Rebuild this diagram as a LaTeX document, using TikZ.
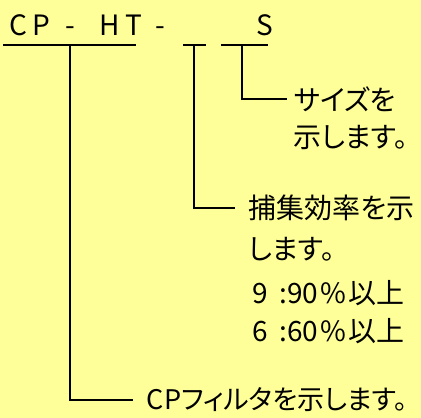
\documentclass[tikz,border=0pt]{standalone}
\usepackage{fontspec}
\setmainfont{Noto Sans CJK JP}[RawFeature=+palt]
\definecolor{memo}{RGB}{255,255,153}
\begin{document}
\begin{tikzpicture}[x=1pt, y=-1pt, line width=1.6pt,
    every node/.style={inner sep=0pt, anchor=west, font=\fontsize{28}{32}\selectfont},
    code/.style={anchor=base west, font=\fontsize{28}{32}\selectfont}]
      \fill[memo] (0,0) rectangle (421,418);
      \useasboundingbox (0,0) rectangle (421,418);
      % model code
      \node (cp) at (9,35) [code] {C\hspace{5pt}P};
      \node (d1) at (65,35) [code] {-};
      \node (ht) at (99,35) [code] {H\hspace{5pt}T};
      \node (d2) at (155,35) [code] {-};
      \node (s) at (256,35) [code] {S};
      \coordinate (u1) at (3,45);
      \coordinate (u2) at (136,45);
      \coordinate (u3) at (183,45);
      \coordinate (u4) at (206,45);
      \coordinate (u5) at (221,45);
      \coordinate (u6) at (268,45);
      \coordinate (cpdrop) at (70,45);
      \coordinate (efdrop) at (194,45);
      \coordinate (szdrop) at (242,45);
      % labels
      \node (szA) at (287,99) [inner xsep=6pt] {サイズを};
      \node (szB) at (293,137) {示します。};
      \node (efA) at (235,208) [inner xsep=13pt] {捕集効率を示};
      \node (efB) at (248,249) {します。};
      \node (efC) at (252,293) {9\hspace{11pt}:90\hspace{2pt}\%\hspace{3pt}以上};
      \node (efD) at (252,331) {6\hspace{11pt}:60\hspace{2pt}\%\hspace{3pt}以上};
      \node (cpA) at (133,400) [inner xsep=13pt, font=\fontsize{27}{32}\selectfont] {CPフィルタを示します。};
      \foreach \source/\dest in {u1/u2, u3/u4, u5/u6}
        \draw (\source) -- (\dest);
      \foreach \source/\dest in {szdrop/szA, efdrop/efA, cpdrop/cpA}
        \draw (\source) |- (\dest.west);
    \end{tikzpicture}
\end{document}
